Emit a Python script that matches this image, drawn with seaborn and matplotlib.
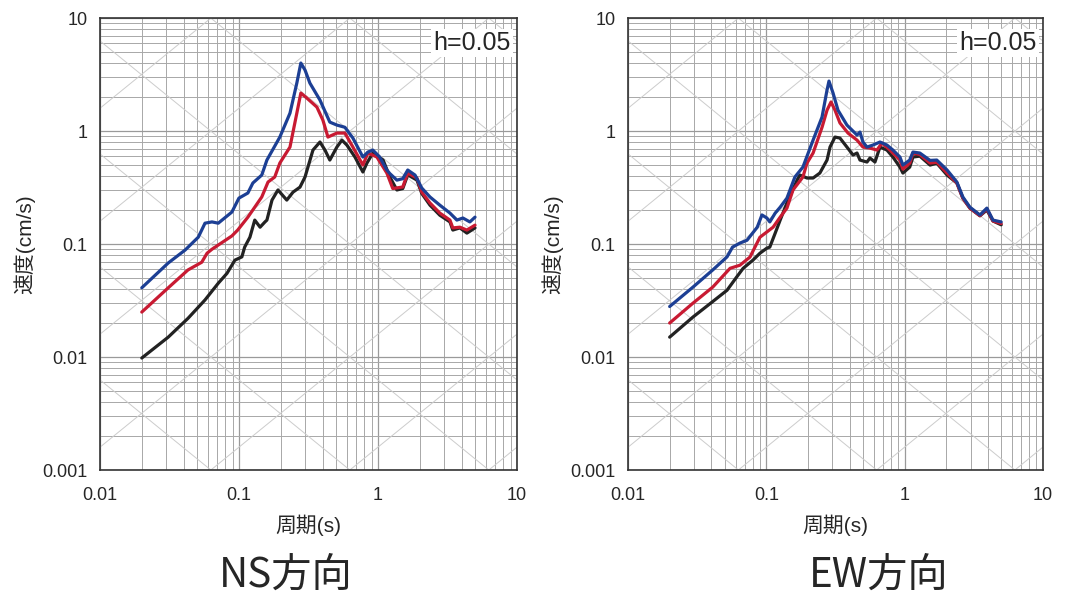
import numpy as np
import pandas as pd
import matplotlib
matplotlib.use("Agg")
import matplotlib.pyplot as plt
import matplotlib.ticker as mticker
import seaborn as sns

sns.set_style("white")
plt.rcParams['font.family'] = ['Liberation Sans', 'Noto Sans CJK JP', 'DejaVu Sans']

# ---- NS direction (period s, velocity cm/s) ----
ns_blue_t = [0.02, 0.031, 0.041, 0.051, 0.057, 0.064, 0.071, 0.089, 0.10, 0.116, 0.126, 0.146,
             0.159, 0.197, 0.233, 0.261, 0.279, 0.299, 0.324, 0.383, 0.451, 0.507, 0.579, 0.661,
             0.78, 0.847, 0.92, 1.03, 1.16, 1.22, 1.37, 1.51, 1.64, 1.85, 2.07, 2.37, 2.79,
             3.30, 3.70, 4.09, 4.59, 5.0]
ns_blue_v = [0.041, 0.068, 0.0885, 0.115, 0.153, 0.157, 0.153, 0.192, 0.255, 0.283, 0.347, 0.408,
             0.554, 0.885, 1.44, 2.66, 4.0, 3.47, 2.66, 1.88, 1.20, 1.13, 1.08, 0.867,
             0.589, 0.652, 0.679, 0.589, 0.452, 0.42, 0.368, 0.379, 0.452, 0.408, 0.313, 0.261, 0.221,
             0.188, 0.163, 0.17, 0.157, 0.173]

ns_red_t = [0.02, 0.031, 0.043, 0.054, 0.059, 0.064, 0.071, 0.089, 0.098, 0.116, 0.13, 0.146,
            0.162, 0.181, 0.197, 0.233, 0.261, 0.279, 0.308, 0.364, 0.402, 0.437, 0.507, 0.579,
            0.661, 0.78, 0.847, 0.984, 1.16, 1.28, 1.51, 1.64, 1.91, 2.07, 2.37, 2.79, 3.30,
            3.46, 3.89, 4.37, 5.0]
ns_red_v = [0.025, 0.041, 0.059, 0.069, 0.083, 0.09, 0.098, 0.118, 0.133, 0.173, 0.212, 0.261,
            0.354, 0.392, 0.521, 0.722, 1.44, 2.17, 1.96, 1.63, 1.25, 0.885, 0.96, 0.96,
            0.722, 0.50, 0.639, 0.589, 0.425, 0.31, 0.32, 0.425, 0.384, 0.288, 0.231, 0.188, 0.163,
            0.139, 0.141, 0.133, 0.147]

ns_black_t = [0.02, 0.031, 0.043, 0.057, 0.071, 0.082, 0.089, 0.0935, 0.105, 0.11, 0.12, 0.13,
              0.142, 0.154, 0.159, 0.173, 0.191, 0.221, 0.245, 0.275, 0.299, 0.341, 0.383, 0.416,
              0.451, 0.507, 0.551, 0.598, 0.684, 0.78, 0.834, 0.92, 1.09, 1.22, 1.37, 1.51, 1.64,
              1.91, 2.07, 2.37, 2.79, 3.30, 3.46, 3.89, 4.37, 5.0]
ns_black_v = [0.0098, 0.015, 0.022, 0.032, 0.045, 0.055, 0.065, 0.072, 0.077, 0.094, 0.115, 0.163,
              0.141, 0.157, 0.163, 0.245, 0.301, 0.245, 0.288, 0.319, 0.392, 0.679, 0.80, 0.679,
              0.554, 0.722, 0.832, 0.752, 0.589, 0.434, 0.521, 0.639, 0.554, 0.392, 0.301, 0.31, 0.41,
              0.368, 0.28, 0.221, 0.18, 0.157, 0.133, 0.139, 0.125, 0.139]

# ---- EW direction ----
ew_blue_t = [0.02, 0.0295, 0.041, 0.052, 0.057, 0.0645, 0.0725, 0.086, 0.093, 0.101, 0.106, 0.116,
             0.126, 0.141, 0.161, 0.184, 0.218, 0.253, 0.275, 0.284, 0.304, 0.33, 0.383, 0.453,
             0.476, 0.50, 0.535, 0.591, 0.664, 0.746, 0.824, 0.926, 0.973, 1.09, 1.15, 1.29, 1.53,
             1.71, 2.03, 2.39, 2.64, 2.97, 3.51, 3.94, 4.36, 5.0]
ew_blue_v = [0.028, 0.0416, 0.059, 0.077, 0.094, 0.102, 0.108, 0.141, 0.181, 0.170, 0.157, 0.188,
             0.212, 0.255, 0.392, 0.48, 0.832, 1.33, 2.31, 2.77, 2.17, 1.53, 1.13, 0.922,
             0.98, 0.80, 0.722, 0.752, 0.80, 0.752, 0.679, 0.589, 0.50, 0.554, 0.652, 0.639, 0.55,
             0.554, 0.452, 0.354, 0.261, 0.212, 0.181, 0.208, 0.163, 0.157]

ew_red_t = [0.02, 0.0295, 0.041, 0.0547, 0.0645, 0.0762, 0.09, 0.101, 0.112, 0.126, 0.141, 0.156,
            0.184, 0.197, 0.218, 0.253, 0.275, 0.294, 0.314, 0.341, 0.39, 0.453, 0.50, 0.562,
            0.631, 0.687, 0.784, 0.926, 0.973, 1.09, 1.15, 1.29, 1.53, 1.71, 2.03, 2.39, 2.64,
            2.97, 3.51, 3.94, 4.36, 5.0]
ew_red_v = [0.020, 0.030, 0.0416, 0.061, 0.065, 0.0767, 0.115, 0.128, 0.141, 0.173, 0.208, 0.301,
            0.392, 0.521, 0.639, 1.08, 1.53, 1.81, 1.53, 1.18, 0.96, 0.832, 0.722, 0.707,
            0.679, 0.783, 0.679, 0.554, 0.46, 0.52, 0.639, 0.62, 0.521, 0.53, 0.425, 0.347, 0.255,
            0.208, 0.178, 0.205, 0.16, 0.152]

ew_black_t = [0.02, 0.0295, 0.041, 0.052, 0.061, 0.068, 0.080, 0.090, 0.101, 0.106, 0.116, 0.126,
              0.141, 0.167, 0.175, 0.197, 0.218, 0.244, 0.275, 0.289, 0.314, 0.341, 0.383, 0.424,
              0.453, 0.476, 0.535, 0.562, 0.611, 0.664, 0.746, 0.824, 0.926, 0.973, 1.09, 1.15,
              1.29, 1.53, 1.71, 2.03, 2.39, 2.64, 2.97, 3.51, 3.94, 4.36, 5.0]
ew_black_v = [0.015, 0.0226, 0.031, 0.039, 0.051, 0.061, 0.072, 0.083, 0.092, 0.094, 0.125, 0.163,
              0.231, 0.368, 0.408, 0.384, 0.384, 0.425, 0.554, 0.722, 0.885, 0.867, 0.722, 0.614,
              0.639, 0.554, 0.532, 0.577, 0.532, 0.722, 0.679, 0.589, 0.48, 0.425, 0.48, 0.589,
              0.6, 0.50, 0.52, 0.408, 0.347, 0.255, 0.208, 0.178, 0.20, 0.16, 0.148]

series_names = ["blue", "red", "black"]
palette = {"blue": "#1c3f94", "red": "#c81a32", "black": "#222222"}

panels = [
    ("NS", [(ns_blue_t, ns_blue_v), (ns_red_t, ns_red_v), (ns_black_t, ns_black_v)]),
    ("EW", [(ew_blue_t, ew_blue_v), (ew_red_t, ew_red_v), (ew_black_t, ew_black_v)]),
]

fig = plt.figure(figsize=(10.69, 5.97), dpi=100)
ax_pos = [[0.0935, 0.2127, 0.390, 0.757], [0.5875, 0.2127, 0.388, 0.757]]


def draw_tripartite(ax):
    t = np.logspace(-2, 1, 50)
    for k in range(-4, 5):
        # constant acceleration lines (gal) and constant displacement lines (cm)
        ax.plot(t, 10.0**k * t / (2 * np.pi), color="#cccccc", lw=0.7, zorder=1)
    for k in range(-6, 3):
        ax.plot(t, 2 * np.pi * 10.0**k / t, color="#cccccc", lw=0.7, zorder=1)


for (name, curves), pos in zip(panels, ax_pos):
    ax = fig.add_axes(pos)
    ax.set_xscale("log")
    ax.set_yscale("log")
    draw_tripartite(ax)

    frames = []
    for sname, (tt, vv) in zip(series_names, curves):
        frames.append(pd.DataFrame({"T": tt, "V": vv, "s": sname}))
    df = pd.concat(frames, ignore_index=True)
    # draw black first so blue sits on top like the original
    for sname in ["black", "red", "blue"]:
        sns.lineplot(data=df[df.s == sname], x="T", y="V", color=palette[sname],
                     lw=2.3, sort=False, ax=ax, zorder=3, legend=False)

    ax.set_xlim(0.01, 10)
    ax.set_ylim(0.001, 10)
    ax.grid(True, which="major", color="#9a9a9a", lw=0.9)
    ax.grid(True, which="minor", color="#a8a8a8", lw=0.7)
    ax.set_axisbelow(True)
    fmt = mticker.FuncFormatter(lambda v, p: f"{v:g}")
    ax.xaxis.set_major_formatter(fmt)
    ax.yaxis.set_major_formatter(fmt)
    ax.xaxis.set_minor_locator(mticker.LogLocator(base=10, subs=np.arange(2, 10)))
    ax.yaxis.set_minor_locator(mticker.LogLocator(base=10, subs=np.arange(2, 10)))
    ax.xaxis.set_minor_formatter(mticker.NullFormatter())
    ax.yaxis.set_minor_formatter(mticker.NullFormatter())
    ax.tick_params(axis="both", which="both", direction="in", color="#333333")
    ax.tick_params(axis="both", which="major", length=5, width=1.0, labelsize=13)
    ax.tick_params(axis="both", which="minor", length=3, width=0.8)
    ax.tick_params(axis="x", which="major", pad=12)
    ax.tick_params(axis="y", which="major", pad=9)
    for sp in ax.spines.values():
        sp.set_color("#333333")
        sp.set_linewidth(1.2)

    ax.set_xlabel("周期(s)", fontsize=15, labelpad=8)
    ax.set_ylabel("速度(cm/s)", fontsize=15, labelpad=5)
    ax.text(0.985, 0.972, "h=0.05", transform=ax.transAxes, ha="right", va="top", fontsize=18,
            bbox=dict(facecolor="white", edgecolor="none", pad=1.5), zorder=5)

fig.text(0.267, 0.037, "NS方向", ha="center", va="center", fontsize=29,
         family=["Noto Sans CJK JP", "DejaVu Sans"])
fig.text(0.822, 0.037, "EW方向", ha="center", va="center", fontsize=29,
         family=["Noto Sans CJK JP", "DejaVu Sans"])

fig.savefig("out.png", dpi=100)
